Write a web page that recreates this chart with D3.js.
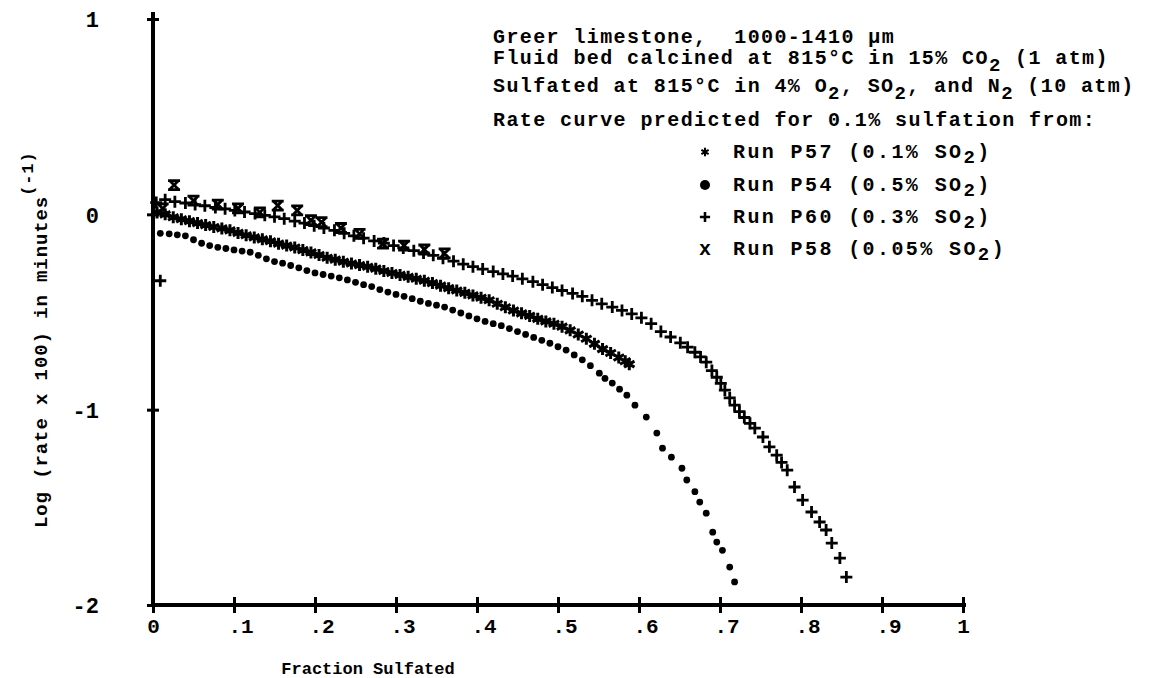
<!DOCTYPE html>
<html>
<head>
<meta charset="utf-8">
<script src="https://d3js.org/d3.v7.min.js"></script>
<style>
body { margin: 0; background: #fff; }
text { font-family: "Liberation Mono", monospace; font-weight: bold; fill: #000; }
</style>
</head>
<body>
<svg id="chart" width="1151" height="678"></svg>
<script>
// values: [fraction sulfated, log(rate x 100)]
var runP57 = [[0.005,0.01],[0.015,0.0],[0.025,-0.015],[0.035,-0.025],[0.045,-0.035],[0.055,-0.045],[0.065,-0.055],[0.075,-0.065],[0.085,-0.072],[0.095,-0.082],[0.105,-0.095],[0.115,-0.107],[0.125,-0.118],[0.135,-0.128],[0.145,-0.138],[0.155,-0.15],[0.165,-0.16],[0.175,-0.17],[0.185,-0.183],[0.195,-0.195],[0.205,-0.208],[0.215,-0.222],[0.225,-0.232],[0.235,-0.243],[0.245,-0.252],[0.255,-0.26],[0.265,-0.268],[0.275,-0.278],[0.285,-0.29],[0.295,-0.3],[0.305,-0.31],[0.315,-0.32],[0.325,-0.33],[0.335,-0.34],[0.345,-0.352],[0.355,-0.365],[0.365,-0.378],[0.375,-0.39],[0.385,-0.402],[0.395,-0.415],[0.405,-0.427],[0.415,-0.44],[0.425,-0.458],[0.435,-0.476],[0.445,-0.492],[0.455,-0.507],[0.465,-0.52],[0.475,-0.535],[0.485,-0.548],[0.495,-0.56],[0.505,-0.575],[0.515,-0.594],[0.525,-0.615],[0.535,-0.637],[0.545,-0.663],[0.555,-0.69],[0.565,-0.71],[0.575,-0.733],[0.583,-0.752],[0.588,-0.767]];

var runP54 = [[0.009,-0.097],[0.02,-0.1],[0.03,-0.105],[0.04,-0.11],[0.05,-0.13],[0.06,-0.148],[0.07,-0.16],[0.08,-0.169],[0.09,-0.175],[0.1,-0.182],[0.11,-0.188],[0.12,-0.194],[0.13,-0.21],[0.14,-0.228],[0.15,-0.242],[0.16,-0.25],[0.17,-0.262],[0.18,-0.274],[0.19,-0.288],[0.2,-0.3],[0.21,-0.308],[0.22,-0.316],[0.23,-0.325],[0.24,-0.336],[0.25,-0.348],[0.26,-0.36],[0.27,-0.37],[0.28,-0.385],[0.29,-0.398],[0.3,-0.41],[0.31,-0.42],[0.32,-0.432],[0.33,-0.445],[0.34,-0.456],[0.35,-0.465],[0.36,-0.475],[0.37,-0.49],[0.38,-0.505],[0.39,-0.52],[0.4,-0.535],[0.41,-0.548],[0.42,-0.56],[0.43,-0.57],[0.44,-0.585],[0.45,-0.6],[0.46,-0.615],[0.47,-0.63],[0.48,-0.645],[0.49,-0.66],[0.5,-0.678],[0.51,-0.695],[0.52,-0.72],[0.53,-0.745],[0.54,-0.775],[0.551,-0.813],[0.558,-0.84],[0.567,-0.864],[0.576,-0.895],[0.585,-0.926],[0.595,-0.977],[0.609,-1.038],[0.622,-1.12],[0.629,-1.197],[0.64,-1.243],[0.653,-1.3],[0.659,-1.36],[0.669,-1.42],[0.675,-1.473],[0.683,-1.53],[0.691,-1.627],[0.696,-1.678],[0.703,-1.72],[0.712,-1.806],[0.718,-1.882]];

var runP60 = [[0.009,-0.34],[0.004,0.06],[0.015,0.075],[0.027,0.065],[0.04,0.058],[0.052,0.05],[0.064,0.044],[0.077,0.035],[0.089,0.028],[0.101,0.02],[0.113,0.012],[0.126,0.004],[0.138,-0.005],[0.15,-0.013],[0.162,-0.022],[0.175,-0.035],[0.187,-0.045],[0.199,-0.058],[0.211,-0.07],[0.224,-0.082],[0.236,-0.097],[0.248,-0.11],[0.26,-0.122],[0.273,-0.136],[0.285,-0.147],[0.297,-0.16],[0.309,-0.172],[0.322,-0.186],[0.334,-0.198],[0.346,-0.21],[0.358,-0.225],[0.371,-0.24],[0.383,-0.255],[0.395,-0.268],[0.407,-0.28],[0.42,-0.293],[0.432,-0.305],[0.444,-0.316],[0.456,-0.33],[0.469,-0.345],[0.481,-0.36],[0.493,-0.375],[0.505,-0.39],[0.518,-0.405],[0.53,-0.42],[0.542,-0.44],[0.554,-0.458],[0.567,-0.475],[0.579,-0.492],[0.591,-0.51],[0.603,-0.53],[0.615,-0.56],[0.627,-0.6],[0.639,-0.628],[0.651,-0.658],[0.66,-0.68],[0.669,-0.706],[0.676,-0.73],[0.683,-0.757],[0.69,-0.8],[0.696,-0.834],[0.701,-0.865],[0.706,-0.9],[0.712,-0.94],[0.718,-0.977],[0.724,-1.01],[0.73,-1.04],[0.737,-1.07],[0.743,-1.095],[0.753,-1.14],[0.761,-1.19],[0.77,-1.233],[0.776,-1.27],[0.783,-1.31],[0.792,-1.396],[0.802,-1.463],[0.813,-1.524],[0.823,-1.575],[0.831,-1.616],[0.838,-1.683],[0.848,-1.76],[0.856,-1.857]];

var runP58 = [[0.012,0.03],[0.026,0.15],[0.05,0.07],[0.08,0.05],[0.105,0.03],[0.132,0.01],[0.154,0.045],[0.178,0.02],[0.195,-0.03],[0.208,-0.04],[0.232,-0.07],[0.255,-0.1],[0.284,-0.15],[0.31,-0.16],[0.335,-0.18],[0.36,-0.2]];

var xTicks = [0, 0.1, 0.2, 0.3, 0.4, 0.5, 0.6, 0.7, 0.8, 0.9, 1];
var xTickLabels = ["0", ".1", ".2", ".3", ".4", ".5", ".6", ".7", ".8", ".9", "1"];
var yTicks = [1, 0, -1, -2];
var yTickLabels = ["1", "0", "-1", "-2"];

// "_2" means subscript 2
var notes = ["Greer limestone,  1000-1410 \u00b5m",
             "Fluid bed calcined at 815\u00b0C in 15% CO_2 (1 atm)",
             "Sulfated at 815\u00b0C in 4% O_2, SO_2, and N_2 (10 atm)",
             "Rate curve predicted for 0.1% sulfation from:"];
var legendLabels = ["Run P57 (0.1% SO_2)", "Run P54 (0.5% SO_2)", "Run P60 (0.3% SO_2)", "Run P58 (0.05% SO_2)"];
var legendMarks = ["star", "dot", "plus", "cross"];

var svg = d3.select("#chart");
var x = d3.scaleLinear().domain([0, 1]).range([153, 963]);
var y = d3.scaleLinear().domain([-2, 1]).range([605, 19]);

var markPath = {
  star: "M0,-6L0,6M-5.2,-3L5.2,3M-5.2,3L5.2,-3",
  plus: "M-6,0L6,0M0,-6L0,6",
  cross: "M-6,-4.5L6,-4.5M-6,4.5L6,4.5M-4.5,-4.5L4.5,4.5M4.5,-4.5L-4.5,4.5"
};

function drawMarks(data, kind) {
  var g = svg.append("g");
  if (kind == "dot") {
    g.selectAll("circle").data(data).enter().append("circle")
      .attr("cx", function(d) { return x(d[0]); })
      .attr("cy", function(d) { return y(d[1]); })
      .attr("r", 3.4)
      .attr("fill", "black");
  } else {
    g.selectAll("path").data(data).enter().append("path")
      .attr("transform", function(d) { return "translate(" + x(d[0]) + "," + y(d[1]) + ")"; })
      .attr("d", markPath[kind])
      .attr("fill", "none")
      .attr("stroke", "black")
      .attr("stroke-width", kind == "star" ? 3 : 2.8);
  }
}

drawMarks(runP54, "dot");
drawMarks(runP57, "star");
drawMarks(runP60, "plus");
drawMarks(runP58, "cross");

// axes
var xAxis = d3.axisBottom(x).tickValues(xTicks).tickSizeOuter(0).tickSize(0)
  .tickFormat(function(d, i) { return xTickLabels[i]; });
var gx = svg.append("g").attr("transform", "translate(0,605)").call(xAxis);
gx.select(".domain").attr("stroke-width", 4).attr("d", "M151,0H966");
gx.selectAll(".tick line").attr("y1", -8).attr("y2", 8).attr("stroke-width", 3);
gx.selectAll(".tick text")
  .attr("font-size", 21).attr("y", 28).attr("dy", 0)
  .attr("text-anchor", function(d) { return (d == 0 || d == 1) ? "middle" : "start"; })
  .attr("x", function(d) { return (d == 0 || d == 1) ? 0 : -6; });

var yAxis = d3.axisLeft(y).tickValues(yTicks).tickSizeOuter(0).tickSize(0)
  .tickFormat(function(d, i) { return yTickLabels[i]; });
var gy = svg.append("g").attr("transform", "translate(153,0)").call(yAxis);
gy.select(".domain").attr("stroke-width", 4).attr("d", "M0,12V607");
gy.selectAll(".tick line").attr("x1", -6).attr("x2", 6).attr("stroke-width", 3);
gy.selectAll(".tick text").attr("font-size", 22).attr("x", -54).attr("dy", "0.35em").attr("text-anchor", "end");

svg.selectAll(".domain, .tick line").attr("stroke", "black");
svg.selectAll(".tick text").attr("fill", "black").style("font-family", "Liberation Mono, monospace").style("font-weight", "bold");

// text with subscripts
function richText(sel, str, sub) {
  var parts = str.split(/_(.)/);
  parts.forEach(function(p, i) {
    if (p == "") return;
    if (i % 2 == 1) {
      sel.append("tspan").attr("dy", sub).attr("font-size", 19).text(p);
    } else {
      var t = sel.append("tspan").text(p);
      if (i > 0) t.attr("dy", -sub);
    }
  });
}

var noteY = [43, 64, 92, 126];
notes.forEach(function(n, i) {
  var t = svg.append("text").attr("x", 493).attr("y", noteY[i])
    .attr("font-size", 20).attr("letter-spacing", 1.4).attr("xml:space", "preserve");
  richText(t, n, 7);
});

var legY = [158, 191, 223, 255];
legendLabels.forEach(function(l, i) {
  var t = svg.append("text").attr("x", 733).attr("y", legY[i])
    .attr("font-size", 20).attr("letter-spacing", 2.4);
  richText(t, l, 5);
  var k = legendMarks[i];
  var cy = legY[i] - 6;
  if (k == "dot") {
    svg.append("circle").attr("cx", 705).attr("cy", cy).attr("r", 5).attr("fill", "black");
  } else if (k == "cross") {
    svg.append("text").attr("x", 705).attr("y", legY[i]).attr("text-anchor", "middle")
      .attr("font-size", 20).text("x");
  } else {
    svg.append("path").attr("transform", "translate(705," + cy + ") scale(" + (k == "star" ? 0.7 : 0.85) + ")")
      .attr("d", markPath[k]).attr("fill", "none").attr("stroke", "black").attr("stroke-width", 3);
  }
});

// axis titles
var yl = svg.append("text").attr("transform", "translate(47,528) rotate(-90)")
  .attr("font-size", 19).attr("letter-spacing", 0.9);
yl.append("tspan").text("Log (rate x 100) in minutes");
yl.append("tspan").attr("dy", -14).attr("font-size", 17).text("(-1)");

svg.append("text").attr("x", 368).attr("y", 674).attr("text-anchor", "middle")
  .attr("font-size", 17).attr("letter-spacing", 0).text("Fraction Sulfated");
</script>
</body>
</html>
